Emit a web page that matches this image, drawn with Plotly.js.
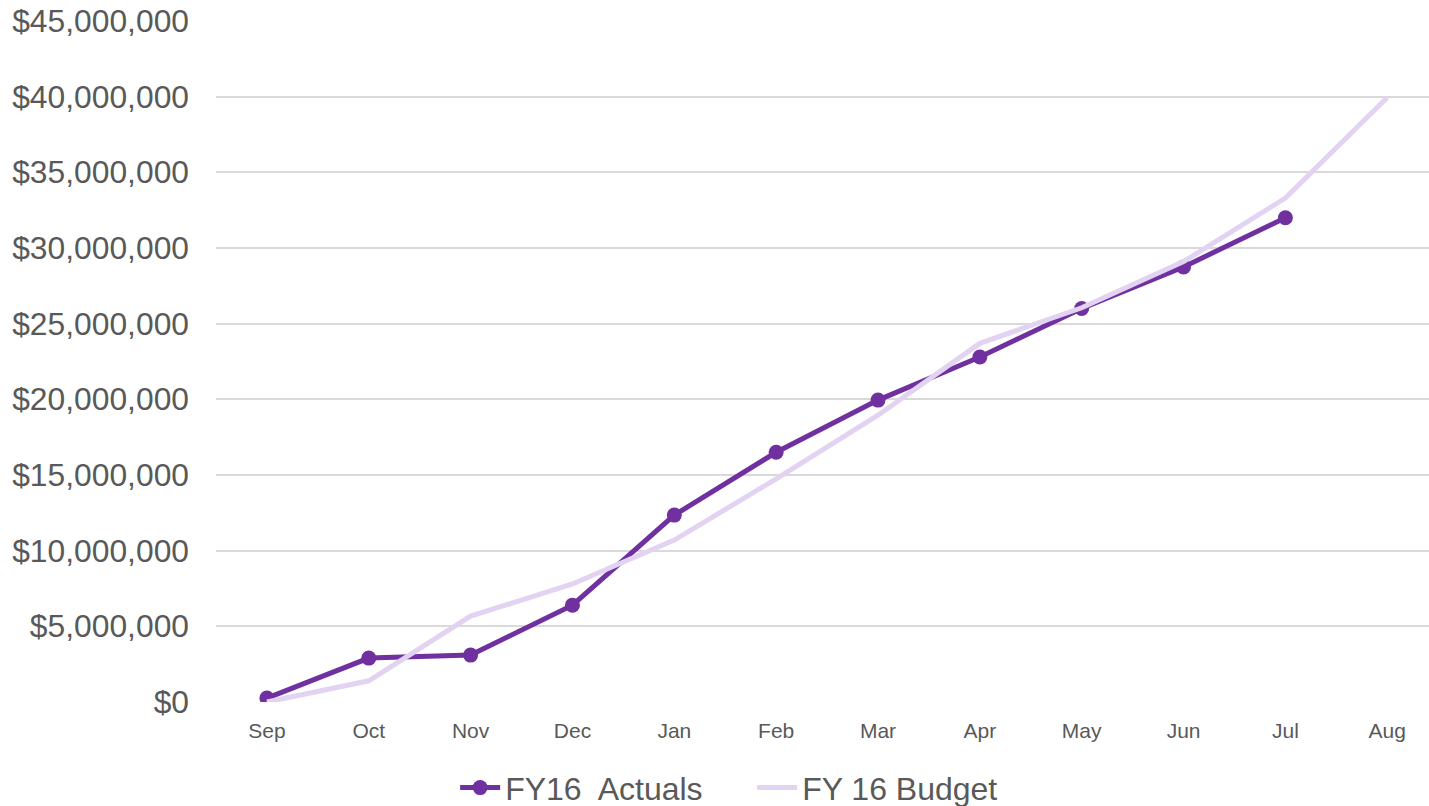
<!DOCTYPE html>
<html><head><meta charset="utf-8">
<script src="https://cdn.plot.ly/plotly-3.0.1.min.js"></script>
<style>html,body{margin:0;padding:0;background:#fff;}#chart{width:1429px;height:806px;}</style>
</head><body><div id="chart"></div>
<script>
const months = ["Sep","Oct","Nov","Dec","Jan","Feb","Mar","Apr","May","Jun","Jul","Aug"];
const actuals = [260000, 2900000, 3100000, 6400000, 12350000, 16500000, 19950000, 22800000, 26000000, 28750000, 32000000, null];
const budget = [0, 1400000, 5680000, 7800000, 10700000, 14750000, 18950000, 23700000, 26050000, 29100000, 33300000, 39950000];
const yTicks = [0,5e6,10e6,15e6,20e6,25e6,30e6,35e6,40e6,45e6];
const yTickText = ["$0","$5,000,000","$10,000,000","$15,000,000","$20,000,000","$25,000,000","$30,000,000","$35,000,000","$40,000,000","$45,000,000"];

const traces = [
  {x: months, y: actuals, name: "FY16\u00a0 Actuals", mode: "lines+markers", type: "scatter",
   line: {color: "#7030a0", width: 5}, marker: {color: "#7030a0", size: 15}},
  {x: months, y: budget, name: "FY 16 Budget", mode: "lines", type: "scatter",
   line: {color: "#e1d3f1", width: 5}}
];
const layout = {
  width: 1429, height: 806,
  margin: {l: 216, r: 0, t: 21, b: 104, autoexpand: false},
  paper_bgcolor: "#fff", plot_bgcolor: "#fff",
  font: {family: "Liberation Sans, Arial, sans-serif", color: "#595959"},
  xaxis: {type: "category", range: [-0.5, 11.41], showgrid: false, zeroline: false, showline: false,
          ticks: "", tickfont: {size: 21, color: "#595959"}, ticklabelstandoff: 14, automargin: false},
  yaxis: {range: [0, 45e6], tickvals: yTicks, ticktext: yTickText, showgrid: true,
          gridcolor: "#d9d9d9", gridwidth: 2, zeroline: false, showline: false, ticks: "",
          tickfont: {size: 31.8, color: "#595959"}, ticklabelstandoff: 26, automargin: false},
  showlegend: true,
  legend: {orientation: "h", x: 0.442, xanchor: "center", y: -0.126, yanchor: "middle",
           font: {size: 32, color: "#595959"}, itemwidth: 40, traceorder: "normal",
           entrywidth: 242, entrywidthmode: "pixels"}
};
Plotly.newPlot("chart", traces, layout, {displayModeBar: false, staticPlot: true});
</script></body></html>
